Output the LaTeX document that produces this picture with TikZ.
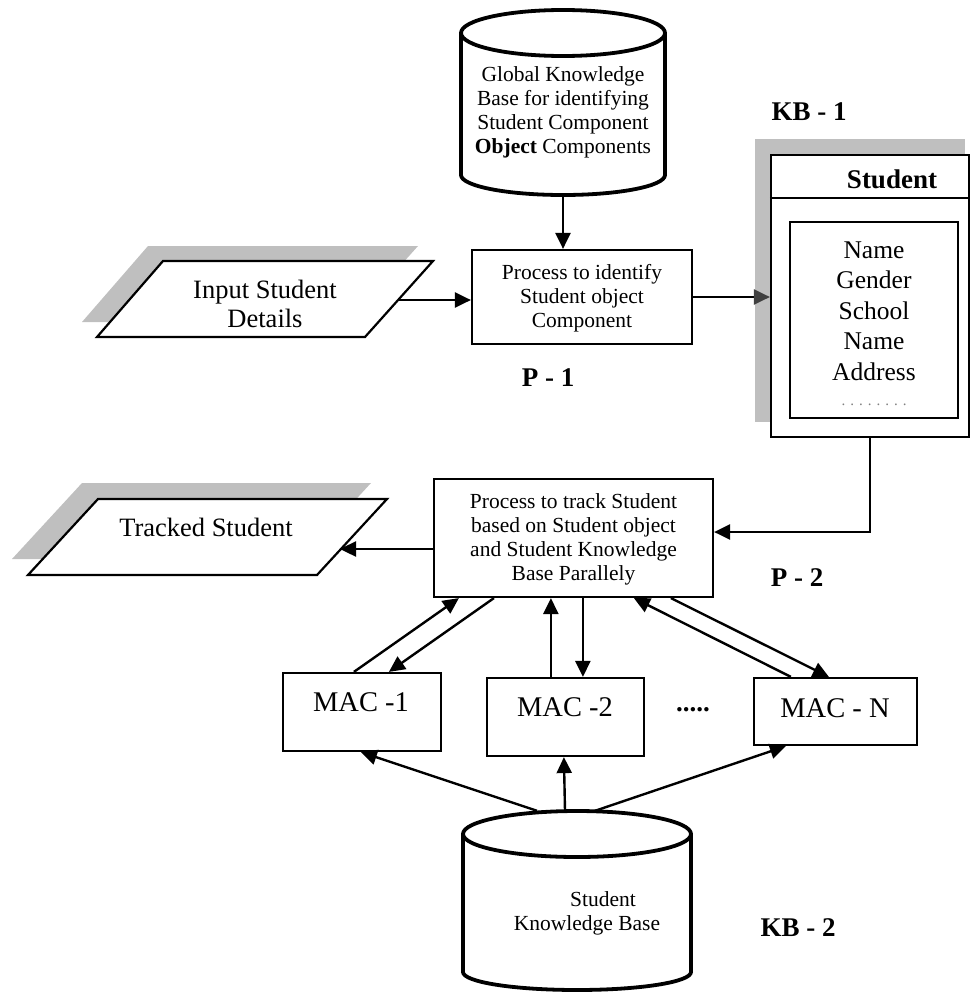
\documentclass[tikz,border=0pt]{standalone}
\usepackage{fontspec}
\setmainfont{Liberation Serif}
\usetikzlibrary{arrows.meta,calc}
\definecolor{shadowgray}{HTML}{BFBFBF}
\definecolor{tipgray}{HTML}{404040}
\begin{document}
\begin{tikzpicture}[x=1pt,y=-1pt,
  box/.style={draw, line width=2.2pt, fill=white, inner sep=0pt},
  area/.style={inner sep=0pt},
  cyl/.style={line width=3.8pt, line join=round},
  para/.style={draw, line width=2.2pt, fill=white, line join=miter},
  shade/.style={fill=shadowgray, draw=none},
  plain/.style={line width=2.4pt},
  arr/.style={line width=2.4pt, -{Triangle[length=16pt,width=15pt]}},
  txt/.style={align=center, inner sep=0pt, font=\fontsize{21.5}{24}\selectfont},
  big/.style={align=center, inner sep=0pt, font=\fontsize{26.5}{29}\selectfont},
  attrs/.style={align=center, inner sep=0pt, font=\fontsize{25.5}{30.5}\selectfont},
  mac/.style={inner sep=0pt, font=\fontsize{28.5}{30}\selectfont},
  lbl/.style={inner sep=0pt, font=\fontsize{27}{29}\selectfont\bfseries}
]
\useasboundingbox (0,0) rectangle (972,993);

% ---------- top cylinder: global knowledge base ----------
\node[area, minimum width=204pt, minimum height=185pt] (gkb) at (563,102.5) {};
\draw[cyl, fill=white] (461,33) -- (461,175) .. controls (461,186) and (506.7,195) .. (563,195)
      .. controls (619.3,195) and (665,186) .. (665,175) -- (665,33);
\draw[cyl] (563,33) ellipse[x radius=102, y radius=23];
\node[txt] (gkbt) at (563,112) {Global Knowledge\\Base for identifying\\Student Component\\\textbf{Object} Components};

% ---------- input parallelogram ----------
\fill[shade] (148,246) -- (418,246) -- (350,322) -- (82,322) -- cycle;
\draw[para] (163,261) -- (433,261) -- (365,337) -- (97,337) -- cycle;
\node[big] (inp) at (265,304) {Input Student\\Details};
\coordinate (inpR) at (398,300);

% ---------- process 1 ----------
\node[box, minimum width=220pt, minimum height=94pt] (p1) at (582,297) {};
\node[txt] (p1t) at (582,298) {Process to identify\\Student object\\Component};
\node[lbl] (pl1) at (548,378) {P - 1};

% ---------- KB-1 student object ----------
\node[lbl] (kb1) at (809,112) {KB - 1};
\fill[shade] (755,139) rectangle (965,422);
\node[box, minimum width=198pt, minimum height=282pt] (stu) at (870,296) {};
\draw[plain] (stu.west |- 0,198) -- (stu.east |- 0,198);
\node[lbl] (stuh) at (892,179) {Student};
\node[box, minimum width=168pt, minimum height=196pt] (attr) at (874,320) {};
\node[attrs] (attrt) at (874,311) {Name\\Gender\\School\\Name\\Address};
\node[inner sep=0pt, text=gray, font=\fontsize{15}{15}\selectfont] (attrd) at (874,405) {. . . . . . . .};

% ---------- process 2 ----------
\node[box, minimum width=279pt, minimum height=118pt] (p2) at (573.5,538) {};
\node[txt] (p2t) at (573.5,539) {Process to track Student\\based on Student object\\and Student Knowledge\\Base Parallely};
\node[lbl] (pl2) at (797,578) {P - 2};

% ---------- tracked parallelogram ----------
\fill[shade] (82,483) -- (371,483) -- (301,559) -- (12,559) -- cycle;
\draw[para] (98,499) -- (387,499) -- (317,575) -- (28,575) -- cycle;
\node[big] (trk) at (206,527) {Tracked Student};
\coordinate (trkR) at (340,549);

% ---------- MAC boxes ----------
\node[box, minimum width=158pt, minimum height=78pt] (m1) at (362,712) {};
\node[mac] (m1t) at (361,702) {MAC -1};
\node[box, minimum width=157pt, minimum height=78pt] (m2) at (565.5,717) {};
\node[mac] (m2t) at (565,707) {MAC -2};
\node[box, minimum width=163pt, minimum height=67pt] (mn) at (835.5,711.5) {};
\node[mac] (mnt) at (835,708) {MAC - N};
\node[lbl] (dots) at (693,710) {.....};

% ---------- bottom cylinder: student knowledge base ----------
\node[area, minimum width=228pt, minimum height=179pt] (skb) at (577,900.5) {};
\draw[cyl, fill=white] (463,834) -- (463,972) .. controls (463,982) and (514,990) .. (577,990)
      .. controls (640,990) and (691,982) .. (691,972) -- (691,834);
\draw[cyl] (577,834) ellipse[x radius=114, y radius=23];
\node[txt] (skbt) at (587,913) {\hspace*{32pt}Student\\Knowledge Base};
\node[lbl] (kb2) at (798,928) {KB - 2};

% ---------- connectors ----------
\draw[arr] (gkb.south) -- (gkb.south |- p1.north);
\draw[arr] (inpR) -- (inpR -| p1.west);
\draw[plain, -{Triangle[length=16pt,width=15pt,color=tipgray]}] (p1.east) -- (p1.east -| stu.west);
\draw[arr] (stu.south) |- ([yshift=6pt]p2.east);
\draw[arr] ([yshift=-11pt]p2.west) -- (trkR);

\draw[arr] ($(m1.north west)+(72,0)$) -- ($(p2.south west)+(26,0)$);
\draw[arr] ($(p2.south west)+(61,0)$) -- ($(m1.north west)+(107,0)$);
\draw[arr] ($(m2.north west)+(65,0)$) -- ($(p2.south west)+(118,0)$);
\draw[arr] ($(p2.south west)+(150,0)$) -- ($(m2.north west)+(97,0)$);
\draw[arr] ($(mn.north west)+(38,0)$) -- ($(p2.south west)+(201,0)$);
\draw[arr] ($(p2.south west)+(238,0)$) -- ($(mn.north west)+(76,0)$);

\draw[arr] ($(skb.north)+(-40,0)$) -- ($(m1.south west)+(79,0)$);
\draw[arr] ($(skb.north)+(-12,0)$) -- ($(m2.south west)+(78,0)$);
\draw[arr] ($(skb.north)+(18,0)$) -- ($(mn.south west)+(33,0)$);
\end{tikzpicture}
\end{document}
